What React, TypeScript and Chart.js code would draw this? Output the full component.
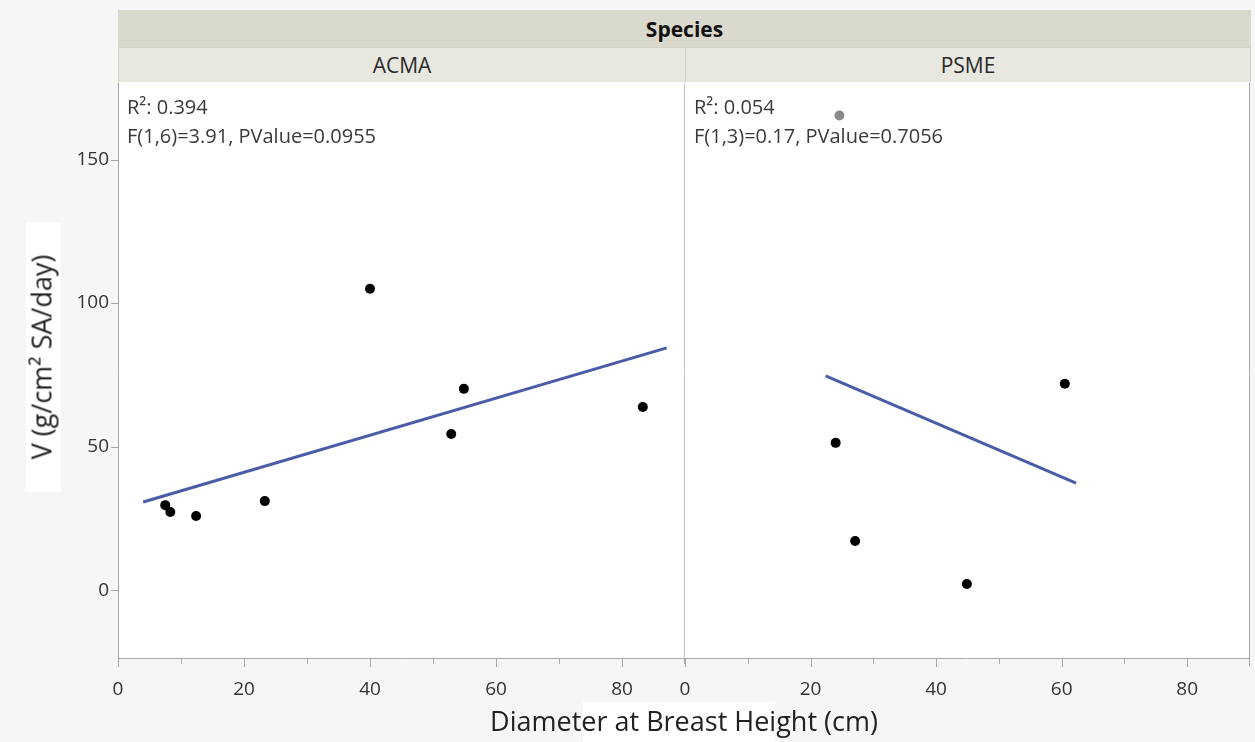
import React, { useEffect, useRef } from "react";
import { Chart, registerables } from "chart.js";

Chart.register(...registerables);

// ---------- data ----------
const FACET_TITLE = "Species";
const PANEL_NAMES = ["ACMA", "PSME"];
const X_TITLE = "Diameter at Breast Height (cm)";
const Y_TITLE = "V (g/cm² SA/day)";

const X_MIN = 0;
const X_MAX = 90;
const Y_MIN = -24;
const Y_MAX = 177;
const X_TICKS = [0, 10, 20, 30, 40, 50, 60, 70, 80, 90];
const X_LABELED = [0, 20, 40, 60, 80];
const Y_TICKS = [0, 50, 100, 150];

const ACMA_DBH = [7.5, 8.3, 12.4, 23.3, 40.0, 52.9, 54.9, 83.3];
const ACMA_V = [29.6, 27.2, 25.8, 31.0, 105.0, 54.4, 70.1, 63.8];
const ACMA_FIT_DBH = [4.0, 87.1];
const ACMA_FIT_V = [30.7, 84.4];
const ACMA_STATS = ["R²: 0.394", "F(1,6)=3.91, PValue=0.0955"];

const PSME_DBH = [24.0, 27.1, 44.9, 60.5];
const PSME_V = [51.3, 17.1, 2.1, 71.9];
const PSME_GRAY_DBH = [24.6];
const PSME_GRAY_V = [165.3];
const PSME_FIT_DBH = [22.4, 62.3];
const PSME_FIT_V = [74.6, 37.3];
const PSME_STATS = ["R²: 0.054", "F(1,3)=0.17, PValue=0.7056"];

// ---------- style ----------
const W = 1255;
const H = 742;
const FONT = '"Open Sans", "Noto Sans", sans-serif';
const BG = "#f6f6f6";
const BORDER = "#a8a8a8";
const DIVIDER = "#c4c4c4";
const TEXT = "#333333";
const FIT_COLOR = "#4a5ba8";
const PLOT_TOP = 82;
const PLOT_BOTTOM = 659;
const SPLIT_X = 685;
const RIGHT_EDGE = 1251;
const LEFT_EDGE = 118;

const pts = (xs: number[], ys: number[]) => xs.map((x, i) => ({ x, y: ys[i] }));

function panelPlugin(stats: string[], isLeft: boolean) {
  return {
    id: "panelDeco",
    beforeDraw(chart: any) {
      const { ctx, chartArea: a } = chart;
      ctx.save();
      ctx.fillStyle = "#ffffff";
      ctx.fillRect(a.left, a.top, a.right - a.left, a.bottom - a.top);
      ctx.restore();
    },
    beforeDatasetsDraw(chart: any) {
      const { ctx, chartArea: a, scales } = chart;
      const L = Math.round(a.left) + 0.5;
      const R = Math.round(a.right) - 0.5;
      const T = Math.round(a.top) + 0.5;
      const B = Math.round(a.bottom) - 0.5;
      ctx.save();
      ctx.lineWidth = 1;
      // bottom axis + outer vertical edge
      ctx.strokeStyle = BORDER;
      ctx.beginPath();
      ctx.moveTo(Math.round(a.left), B);
      ctx.lineTo(Math.round(a.right), B);
      if (isLeft) {
        ctx.moveTo(L, T);
        ctx.lineTo(L, B);
      } else {
        ctx.moveTo(R, T);
        ctx.lineTo(R, B + 8);
      }
      ctx.stroke();
      // divider between the panels
      if (isLeft) {
        ctx.strokeStyle = DIVIDER;
        ctx.beginPath();
        ctx.moveTo(R, T);
        ctx.lineTo(R, B);
        ctx.stroke();
      }
      // ticks
      ctx.strokeStyle = BORDER;
      ctx.beginPath();
      X_TICKS.forEach((v) => {
        const px = Math.round(scales.x.getPixelForValue(v)) + (v === X_MAX ? -0.5 : 0.5);
        const len = X_LABELED.includes(v) ? 8 : 5;
        ctx.moveTo(px, a.bottom);
        ctx.lineTo(px, a.bottom + len);
      });
      if (isLeft) {
        Y_TICKS.forEach((v) => {
          const py = Math.round(scales.y.getPixelForValue(v)) + 0.5;
          ctx.moveTo(a.left, py);
          ctx.lineTo(a.left - 7, py);
        });
      }
      ctx.stroke();
      // fit statistics
      ctx.fillStyle = "#3a3a3a";
      ctx.font = `20px ${FONT}`;
      ctx.textBaseline = "middle";
      ctx.textAlign = "left";
      stats.forEach((s, i) => ctx.fillText(s, a.left + 9, a.top + 26 + i * 29));
      ctx.restore();
    },
  };
}

function makeConfig(
  dbh: number[],
  v: number[],
  grayDbh: number[],
  grayV: number[],
  fitDbh: number[],
  fitV: number[],
  stats: string[],
  isLeft: boolean
): any {
  return {
    type: "scatter",
    data: {
      datasets: [
        {
          label: "fit",
          data: pts(fitDbh, fitV),
          showLine: true,
          borderColor: FIT_COLOR,
          borderWidth: 3,
          pointRadius: 0,
          fill: false,
        },
        {
          label: "points",
          data: pts(dbh, v),
          backgroundColor: "#000000",
          borderColor: "#000000",
          pointRadius: 5,
          borderWidth: 0,
        },
        {
          label: "excluded",
          data: pts(grayDbh, grayV),
          backgroundColor: "#8a8a8a",
          borderColor: "#8a8a8a",
          pointRadius: 5,
          borderWidth: 0,
        },
      ],
    },
    options: {
      responsive: false,
      animation: false,
      devicePixelRatio: 1,
      layout: {
        padding: isLeft
          ? { top: PLOT_TOP, right: W - SPLIT_X, bottom: 0, left: 0 }
          : { top: PLOT_TOP, right: W - RIGHT_EDGE, bottom: 0, left: SPLIT_X },
      },
      plugins: {
        legend: { display: false },
        tooltip: { enabled: false },
        title: { display: false },
      },
      scales: {
        x: {
          type: "linear",
          min: X_MIN,
          max: X_MAX,
          afterBuildTicks: (s: any) => {
            s.ticks = X_TICKS.map((value) => ({ value }));
          },
          afterFit: (s: any) => {
            s.height = H - PLOT_BOTTOM;
            s.paddingLeft = 0;
            s.paddingRight = 0;
          },
          border: { display: false },
          grid: { display: false, drawOnChartArea: false, drawTicks: false },
          ticks: {
            autoSkip: false,
            maxRotation: 0,
            padding: 19,
            color: TEXT,
            font: { family: FONT, size: 19 },
            callback: (val: any) => (X_LABELED.includes(Number(val)) ? String(val) : ""),
          },
        },
        y: {
          type: "linear",
          display: isLeft,
          min: Y_MIN,
          max: Y_MAX,
          afterBuildTicks: (s: any) => {
            s.ticks = Y_TICKS.map((value) => ({ value }));
          },
          afterFit: (s: any) => {
            s.width = isLeft ? LEFT_EDGE : 0;
            s.paddingTop = 0;
            s.paddingBottom = 0;
          },
          border: { display: false },
          grid: { display: false, drawOnChartArea: false, drawTicks: false },
          ticks: {
            padding: 9,
            color: TEXT,
            font: { family: FONT, size: 19 },
          },
        },
      },
    },
    plugins: [panelPlugin(stats, isLeft)],
  };
}

export default function App() {
  const leftRef = useRef<HTMLCanvasElement>(null);
  const rightRef = useRef<HTMLCanvasElement>(null);

  useEffect(() => {
    const c1 = new Chart(
      leftRef.current as HTMLCanvasElement,
      makeConfig(ACMA_DBH, ACMA_V, [], [], ACMA_FIT_DBH, ACMA_FIT_V, ACMA_STATS, true)
    );
    const c2 = new Chart(
      rightRef.current as HTMLCanvasElement,
      makeConfig(PSME_DBH, PSME_V, PSME_GRAY_DBH, PSME_GRAY_V, PSME_FIT_DBH, PSME_FIT_V, PSME_STATS, false)
    );
    return () => {
      c1.destroy();
      c2.destroy();
    };
  }, []);

  const canvasStyle: React.CSSProperties = { position: "absolute", left: 0, top: 0, width: W, height: H };
  const bandBase: React.CSSProperties = {
    position: "absolute",
    boxSizing: "border-box",
    display: "flex",
    alignItems: "center",
    justifyContent: "center",
    fontFamily: FONT,
    color: "#2a2a2a",
  };

  return (
    <div style={{ position: "fixed", left: 0, top: 0, width: W, height: H, background: BG, overflow: "hidden" }}>
      <div
        style={{
          ...bandBase,
          left: LEFT_EDGE,
          top: 10,
          width: RIGHT_EDGE - LEFT_EDGE,
          height: 37,
          background: "#d9d9cd",
          fontWeight: 700,
          fontSize: 21,
          color: "#111",
        }}
      >
        {FACET_TITLE}
      </div>
      {PANEL_NAMES.map((name, i) => (
        <div
          key={name}
          style={{
            ...bandBase,
            left: i === 0 ? LEFT_EDGE : SPLIT_X,
            top: 47,
            width: i === 0 ? SPLIT_X - LEFT_EDGE : RIGHT_EDGE - SPLIT_X,
            height: PLOT_TOP - 47,
            background: "#e8e8e0",
            borderLeft: "1px solid #cfcfc6",
            borderRight: i === 1 ? "1px solid #cfcfc6" : "none",
            borderTop: "1px solid #d2d2c8",
            fontSize: 21,
          }}
        >
          {name}
        </div>
      ))}
      <div
        style={{
          position: "absolute",
          left: 26,
          top: 222,
          width: 35,
          height: 270,
          background: "#ffffff",
        }}
      />
      <div
        style={{
          position: "absolute",
          left: 583,
          top: 702,
          width: 192,
          height: 40,
          background: "#ffffff",
        }}
      />
      <canvas ref={leftRef} width={W} height={H} style={canvasStyle} />
      <canvas ref={rightRef} width={W} height={H} style={canvasStyle} />
      <div
        style={{
          position: "absolute",
          left: 41,
          top: 357,
          transform: "translate(-50%, -50%) rotate(-90deg)",
          whiteSpace: "nowrap",
          fontFamily: FONT,
          fontSize: 27,
          color: "#222",
        }}
      >
        {Y_TITLE}
      </div>
      <div
        style={{
          position: "absolute",
          left: 684,
          top: 720,
          transform: "translate(-50%, -50%)",
          whiteSpace: "nowrap",
          fontFamily: FONT,
          fontSize: 27,
          color: "#222",
        }}
      >
        {X_TITLE}
      </div>
    </div>
  );
}
